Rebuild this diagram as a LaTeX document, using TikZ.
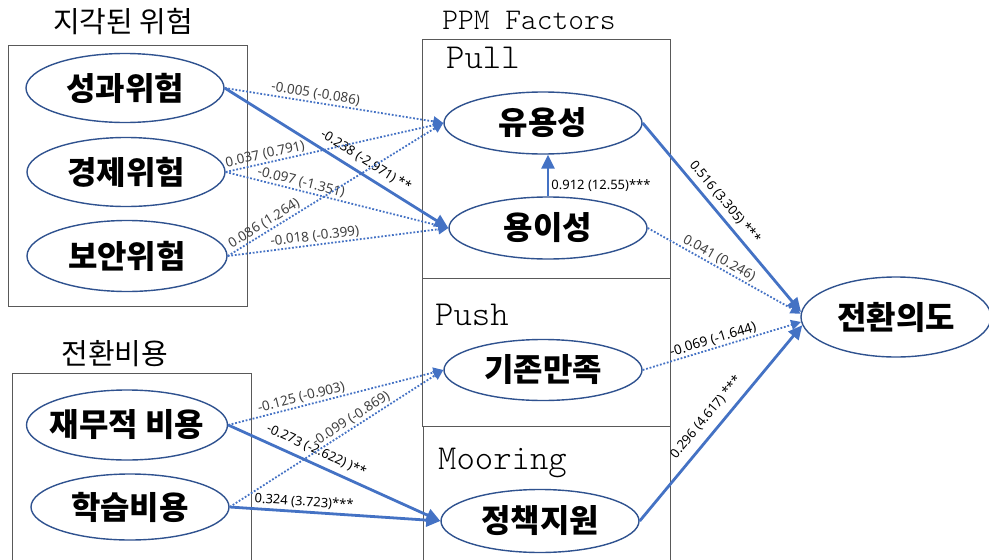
\documentclass[tikz,border=0pt]{standalone}
\usepackage{fontspec}
\setmainfont{Noto Sans}
\newfontfamily\kor{Noto Sans CJK KR}
\usetikzlibrary{shapes.geometric,arrows.meta}
\definecolor{ellc}{HTML}{2F528F}
\definecolor{linec}{HTML}{4472C4}
\definecolor{boxc}{HTML}{595959}
\definecolor{lblc}{HTML}{404040}
\begin{document}
\begin{tikzpicture}[x=1pt,y=-1pt,
 ell/.style={ellipse, draw=ellc, line width=1.4pt, inner sep=0pt, minimum width=198pt, minimum height=66pt, font=\kor\bfseries\fontsize{32}{32}\selectfont},
 boxr/.style={draw=boxc, line width=1pt},
 dotarrow/.style={draw=linec, line width=1.8pt, dash pattern=on 1.8pt off 1.8pt, -{Triangle[length=10pt,width=10pt]}},
 solarrow/.style={draw=linec, line width=2.8pt, -{Triangle[length=14pt,width=13pt]}},
 lbl/.style={font=\fontsize{13.5}{13.5}\selectfont, text=lblc, inner sep=1.5pt, sloped, above},
 blbl/.style={font=\bfseries\fontsize{13}{13}\selectfont, text=black, inner sep=2pt, sloped},
 titletext/.style={font=\kor\fontsize{29}{29}\selectfont},
 mono/.style={font=\ttfamily\fontseries{l}\fontsize{35}{35}\selectfont, anchor=west, inner sep=0pt},
]
\useasboundingbox (0,0) rectangle (989,560);
% boxes
\draw[boxr] (8,45) rectangle (247,306);
\draw[boxr] (12,373) rectangle (251,565);
\draw[boxr] (422,39) rectangle (670,278);
\draw[boxr] (422,278) rectangle (670,426);
\draw[boxr] (423,426) rectangle (670,565);
% titles
\node[titletext] (t1) at (123,22) {지각된 위험};
\node[titletext] (t2) at (115,354) {전환비용};
\node[font=\ttfamily\fontseries{l}\fontsize{30}{30}\selectfont] (ppm) at (529,20) {PPM Factors};
\node[mono] (pull) at (446,58) {Pull};
\node[mono] (push) at (435,315) {Push};
\node[mono] (moor) at (438,463) {Mooring};
% ellipses
\node[ell, minimum height=69pt] (sg) at (125,88) {성과위험};
\node[ell, minimum height=69pt] (gj) at (126,172) {경제위험};
\node[ell, minimum height=71pt, minimum width=200pt] (ba) at (127,256) {보안위험};
\node[ell, minimum height=70pt, minimum width=201pt, inner xsep=-30pt] (jm) at (127,425) {재무적 비용};
\node[ell] (hs) at (130,507) {학습비용};
\node[ell, minimum height=62pt] (yu) at (543,123) {유용성};
\node[ell, minimum height=62pt] (yo) at (548,228) {용이성};
\node[ell, minimum height=61pt] (gm) at (543,370) {기존만족};
\node[ell, minimum height=63pt] (jc) at (540,521) {정책지원};
\node[ell, minimum width=190pt, minimum height=80pt] (jw) at (896,317) {전환의도};
% connectors
\draw[dotarrow] (sg.east) -- node[lbl, pos=0.41] {-0.005 (-0.086)} (yu.west);
\draw[solarrow] (sg.east) -- node[blbl, above=4pt, pos=0.6] {-0.238 (-2.971) **} (yo.west);
\draw[dotarrow] (gj.east) -- node[lbl, pos=0.19] {0.037 (0.791)} (yu.west);
\draw[dotarrow] (gj.east) -- node[lbl, pos=0.33] {-0.097 (-1.351)} (yo.west);
\draw[dotarrow] (ba.east) -- node[lbl, pos=0.19] {0.086 (1.264)} (yu.west);
\draw[dotarrow] (ba.east) -- node[lbl, pos=0.4] {-0.018 (-0.399)} (yo.west);
\draw[dotarrow] (jm.east) -- node[lbl, pos=0.35] {-0.125 (-0.903)} (gm.west);
\draw[solarrow] (jm.east) -- node[blbl, above=4pt, pos=0.39] {-0.273 (-2.622) )**} (jc.west);
\draw[dotarrow] (hs.east) -- node[lbl, pos=0.59] {-0.099 (-0.869)} (gm.west);
\draw[solarrow] (hs.east) -- node[blbl, above=0.5pt, pos=0.35] {0.324 (3.723)***} (jc.west);
\draw[solarrow] (yo.north) -- node[font=\bfseries\fontsize{13}{13}\selectfont, anchor=west, inner sep=2pt, pos=0.25] {0.912 (12.55)***} (yo.north |- yu.south);
\draw[solarrow] (yu.east) -- node[blbl, above=3pt, pos=0.46] {0.516 (3.305) ***} (jw.177);
\draw[dotarrow] (yo.east) -- node[lbl, pos=0.44] {0.041 (0.246)} (jw.178.5);
\draw[dotarrow] (gm.east) -- node[lbl, text=black, pos=0.46] {-0.069 (-1.644)} (jw.183);
\draw[solarrow] (jc.east) -- node[blbl, above=6pt, pos=0.48] {0.296 (4.617) ***} (jw.185.5);
\end{tikzpicture}
\end{document}
